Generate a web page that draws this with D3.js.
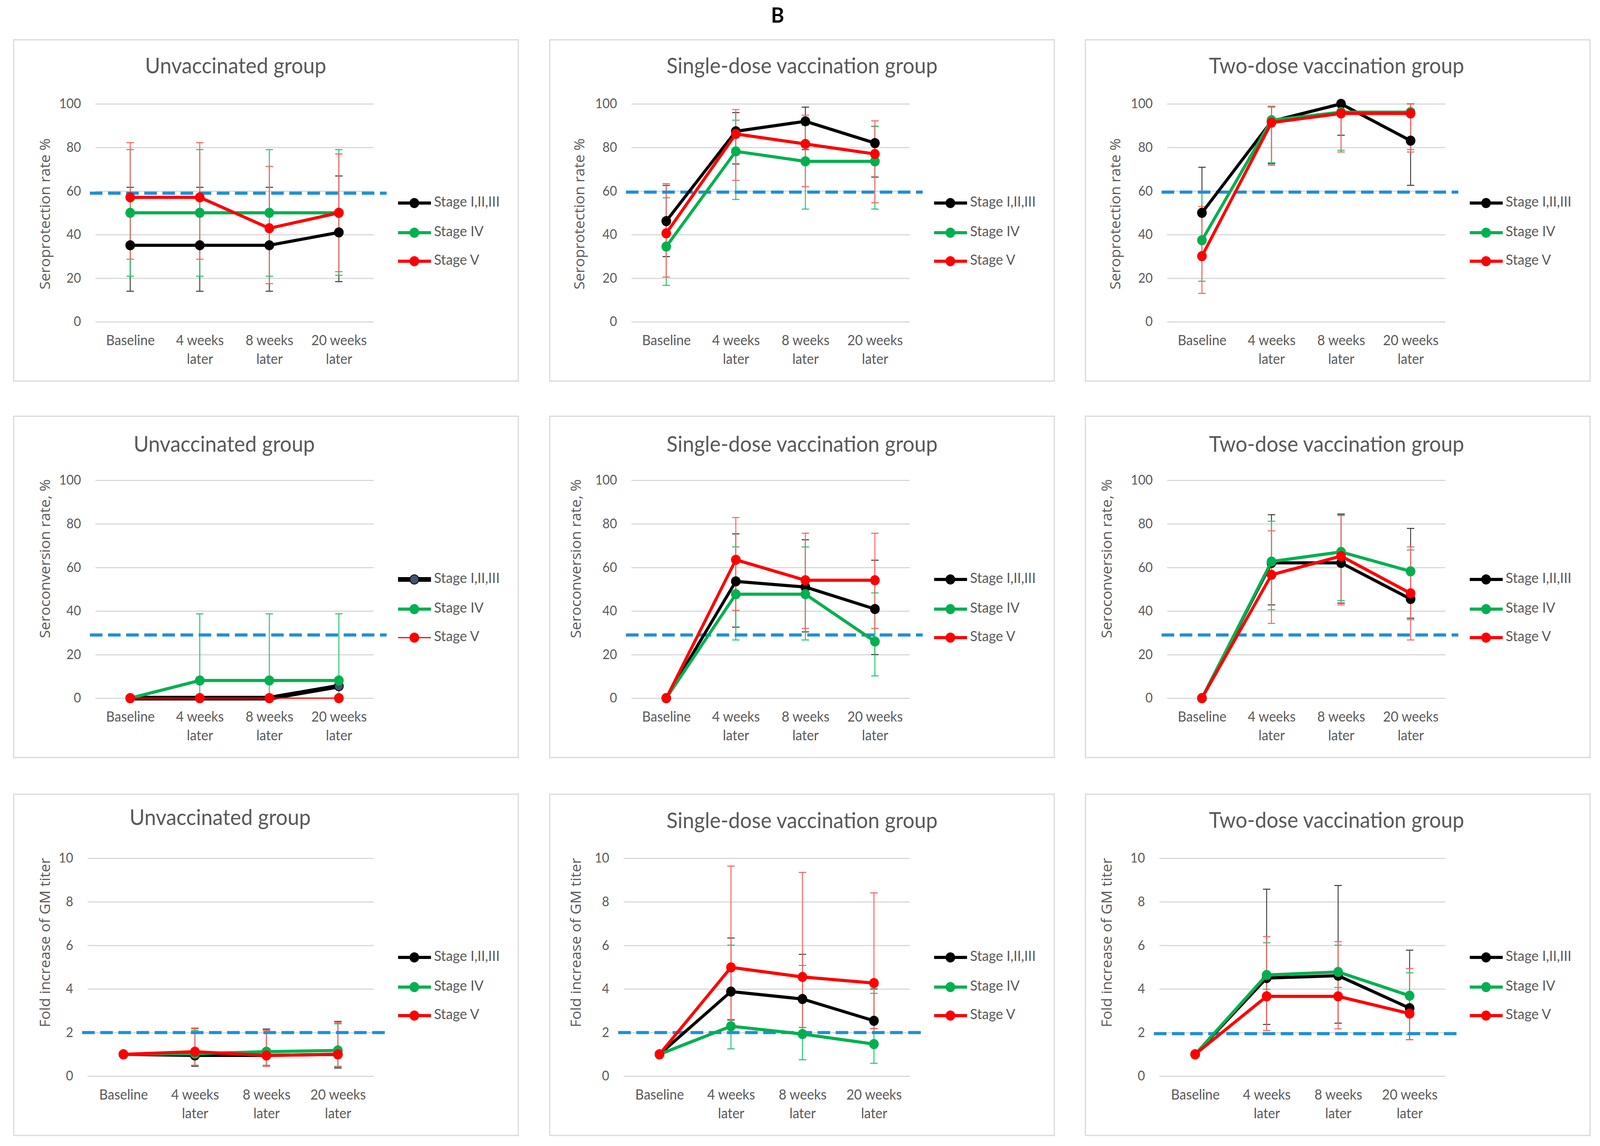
<!DOCTYPE html>
<html>
<head>
<meta charset="utf-8">
<script src="https://cdn.jsdelivr.net/npm/d3@7"></script>
<style>
  html, body { margin: 0; padding: 0; background: #fff; overflow: hidden; }
  svg { display: block; }
</style>
</head>
<body>
<svg id="chart"></svg>
<script>
// categories
const timepoints = ["Baseline", "4 weeks later", "8 weeks later", "20 weeks later"];
const stages = ["Stage I,II,III", "Stage IV", "Stage V"];
const groups = ["Unvaccinated group", "Single-dose vaccination group", "Two-dose vaccination group"];
const measures = ["Seroprotection rate %", "Seroconversion rate, %", "Fold increase of GM titer"];
const pctTicks = [0, 20, 40, 60, 80, 100];
const foldTicks = [0, 2, 4, 6, 8, 10];

// cut-off lines, [measure][group]
const thresholds = [[59, 59.5, 59.5], [29, 29, 29], [2, 2, 1.95]];

// seroprotection rate, [group][stage][timepoint]
const protMean = [
  [[35.1, 35.1, 35.1, 41.0], [50, 50, 50, 50], [57.1, 57.1, 42.9, 50]],
  [[46.2, 87.4, 92.0, 82.0], [34.5, 78.2, 73.6, 73.6], [40.6, 86.2, 81.6, 77.0]],
  [[50, 92, 100, 83.1], [37.4, 92.5, 96.2, 96.2], [30.1, 91.4, 95.6, 95.6]]
];
const protLow = [
  [[14, 14, 14, 18.4], [20.9, 20.9, 20.9, 21.3], [28.7, 28.7, 17.5, 23]],
  [[29.9, 72.4, 79, 66.4], [16.7, 56.1, 51.7, 51.7], [20.5, 64.9, 62, 54.6]],
  [[29, 72.5, 85.6, 62.6], [18.6, 73, 78.7, 79], [13, 71.8, 77.9, 77.9]]
];
const protHigh = [
  [[61.7, 61.7, 61.7, 66.9], [79, 79, 79, 79], [82.2, 82.2, 71.3, 77]],
  [[62.6, 96, 98.5, 89.7], [56.9, 92.5, 90.2, 89.7], [63.4, 97.4, 94.8, 92.2]],
  [[70.9, 98.9, 100, 100], [59, 98.5, 100, 100], [52.9, 98.9, 100, 100]]
];

// seroconversion rate
const convMean = [
  [[0, 0, 0, 5.5], [0, 8.1, 8.1, 8.1], [0, 0, 0, 0]],
  [[0, 53.6, 51, 40.9], [0, 47.7, 47.7, 26], [0, 63.5, 54.1, 54.1]],
  [[0, 62.1, 62.1, 45.5], [0, 62.7, 67.1, 58.2], [0, 56.6, 65.2, 48.1]]
];
const convLow = [
  [[null, null, null, null], [null, 0, 0, 0], [null, null, null, null]],
  [[null, 32.6, 30.4, 20], [null, 26.7, 26.7, 10.2], [null, 40.3, 32, 32]],
  [[null, 42.8, 43.6, 36.7], [null, 40.6, 44.8, 36], [null, 34.3, 42.8, 26.7]]
];
const convHigh = [
  [[null, null, null, null], [null, 38.7, 38.7, 38.7], [null, null, null, null]],
  [[null, 75.4, 72.7, 63.3], [null, 69.4, 69.4, 48.3], [null, 82.9, 75.7, 75.7]],
  [[null, 84.2, 84.5, 77.9], [null, 81.2, 84, 68], [null, 76.8, 83.8, 69.4]]
];

// fold increase of GM titer
const foldMean = [
  [[1, 0.95, 0.95, 1.0], [1, 1.03, 1.12, 1.18], [1, 1.12, 0.95, 1.0]],
  [[1, 3.88, 3.54, 2.54], [1, 2.29, 1.93, 1.47], [1, 4.99, 4.55, 4.27]],
  [[1, 4.5, 4.61, 3.12], [1, 4.64, 4.78, 3.69], [1, 3.66, 3.66, 2.87]]
];
const foldLow = [
  [[null, 0.45, 0.45, 0.37], [null, 0.5, 0.5, 0.45], [null, 0.5, 0.45, 0.42]],
  [[null, 2.57, 2.23, 2.18], [null, 1.25, 0.75, 0.59], [null, 2.6, 2.23, 2.18]],
  [[null, 2.37, 2.43, 1.67], [null, 3.99, 4.07, 1.92], [null, 2.09, 2.17, 1.67]]
];
const foldHigh = [
  [[null, 2.2, 2.16, 2.51], [null, 2.1, 2.1, 2.4], [null, 2.18, 2.1, 2.45]],
  [[null, 6.34, 5.59, 4.0], [null, 6.01, 5.08, 3.8], [null, 9.64, 9.35, 8.41]],
  [[null, 8.58, 8.75, 5.78], [null, 6.12, 6.01, 4.74], [null, 6.4, 6.17, 4.94]]
];

const means = [protMean, convMean, foldMean];
const lows = [protLow, convLow, foldLow];
const highs = [protHigh, convHigh, foldHigh];

// layout
const W = 4325, H = 2935;
const FONT = "Lato, 'Open Sans', sans-serif";
const AXIS_FONT = "'Open Sans', 'Noto Sans', sans-serif";
const GREY = "#595959";
const panelW = 1364, panelH = 874;
const colX = [37, 1486, 2934], rowY = [102, 1066, 2034];
const plotTop = 164, plotBottom = 722, plotRight = 973;
const plotLeft = [221, 221, 200];
const titlePos = [
  [[600, 72], [682, 72], [679, 72]],
  [[569, 77], [682, 77], [679, 77]],
  [[558, 65], [682, 73], [679, 72]]
];
const yLabelX = [[88, 83, 84], [88, 74, 61], [88, 74, 61]];
const yLabelY = [446, 365, 380];
const legendY = [418, 494, 567];

const colors = ["#000000", "#00b050", "#ff0000"];
const errColors = ["#3a3a3a", "#19c46a", "#ff5a5a"];

// the drawing is laid out at 4325x2935; stretch it over the real viewport
const vw = window.innerWidth || W, vh = window.innerHeight || H;
const svg = d3.select("#chart")
  .attr("viewBox", `0 0 ${W} ${H}`)
  .attr("width", vw).attr("height", vh)
  .attr("preserveAspectRatio", "none");
svg.append("rect").attr("width", W).attr("height", H).attr("fill", "#fff");

svg.append("text")
  .attr("x", 2102).attr("y", 58)
  .attr("text-anchor", "middle")
  .attr("font-family", FONT).attr("font-weight", "bold").attr("font-size", 54)
  .attr("fill", "#000")
  .text("B");

for (let r = 0; r < 3; r++) {
  for (let c = 0; c < 3; c++) drawPanel(r, c);
}

function lineWidth(r, c, si) {
  if (r === 1 && c === 0) return [12, 8, 3][si];
  return 8;
}

function drawPanel(r, c) {
  const g = svg.append("g").attr("transform", `translate(${colX[c]},${rowY[r]})`);

  g.append("rect")
    .attr("width", panelW).attr("height", panelH)
    .attr("fill", "#fff").attr("stroke", "#d9d9d9").attr("stroke-width", 3);

  const left = plotLeft[r];
  const ticks = r === 2 ? foldTicks : pctTicks;
  const x = d3.scalePoint().domain(timepoints).range([left, plotRight]).padding(0.5);
  const y = d3.scaleLinear().domain([0, d3.max(ticks)]).range([plotBottom, plotTop]);

  // gridlines + tick labels
  const yAxis = g.append("g")
    .attr("transform", `translate(${left},0)`)
    .call(d3.axisLeft(y).tickValues(ticks).tickSize(-(plotRight - left)).tickPadding(39));
  yAxis.select(".domain").remove();
  yAxis.selectAll("line").attr("stroke", "#d9d9d9").attr("stroke-width", 3);
  yAxis.selectAll("text")
    .attr("font-family", FONT).attr("font-size", 34).attr("fill", GREY);

  // category labels, two lines
  const xAxis = g.append("g")
    .attr("transform", `translate(0,${plotBottom})`)
    .call(d3.axisBottom(x).tickSize(0).tickPadding(0));
  xAxis.select(".domain").remove();
  xAxis.selectAll("text").each(function(d) {
    const t = d3.select(this)
      .text(null).attr("y", null).attr("dy", null)
      .attr("font-family", FONT).attr("font-size", 36).attr("fill", GREY);
    d.replace(" later", "\nlater").split("\n").forEach((p, i) => {
      t.append("tspan").attr("x", 0).attr("y", 51 + i * 48)
        .attr("dominant-baseline", "middle").text(p);
    });
  });

  // chart title
  g.append("text")
    .attr("x", titlePos[r][c][0]).attr("y", titlePos[r][c][1])
    .attr("text-anchor", "middle").attr("dominant-baseline", "middle")
    .attr("font-family", FONT).attr("font-size", 56).attr("fill", GREY)
    .text(groups[c]);

  // y axis title
  g.append("text")
    .attr("transform", `translate(${yLabelX[r][c]},${yLabelY[r]}) rotate(-90)`)
    .attr("text-anchor", "middle").attr("dominant-baseline", "middle")
    .attr("font-family", AXIS_FONT).attr("font-size", 38).attr("fill", GREY)
    .text(measures[r]);

  const mean = means[r][c], lo = lows[r][c], hi = highs[r][c];

  // error bars, behind everything else
  stages.forEach((s, si) => {
    const bars = timepoints.map((t, i) => ({ t, lo: lo[si][i], hi: hi[si][i] }))
      .filter(d => d.lo !== null && d.hi !== null);
    const eg = g.append("g").attr("stroke", errColors[si]).attr("stroke-width", 2.5);
    eg.selectAll("line.v").data(bars).enter().append("line")
      .attr("x1", d => x(d.t)).attr("x2", d => x(d.t))
      .attr("y1", d => y(d.lo)).attr("y2", d => y(d.hi));
    ["lo", "hi"].forEach(k => {
      eg.selectAll("line." + k).data(bars).enter().append("line")
        .attr("x1", d => x(d.t) - 10).attr("x2", d => x(d.t) + 10)
        .attr("y1", d => y(d[k])).attr("y2", d => y(d[k]));
    });
  });

  // cut-off line
  const th = thresholds[r][c];
  g.append("line")
    .attr("x1", left - 15).attr("x2", plotRight + 35)
    .attr("y1", y(th)).attr("y2", y(th))
    .attr("stroke", "#1f8fd8").attr("stroke-width", 8)
    .attr("stroke-dasharray", "34,15");

  // series
  const line = d3.line().x((d, i) => x(timepoints[i])).y(d => y(d));
  stages.forEach((s, si) => {
    const vals = mean[si];
    const lw = lineWidth(r, c, si);
    g.append("path").datum(vals)
      .attr("fill", "none").attr("stroke", colors[si])
      .attr("stroke-width", lw).attr("stroke-linejoin", "round")
      .attr("d", line);
    const fill = (r === 1 && c === 0 && si === 0) ? "#44546a" : colors[si];
    g.selectAll(null).data(vals).enter().append("circle")
      .attr("cx", (d, i) => x(timepoints[i])).attr("cy", d => y(d))
      .attr("r", 12).attr("fill", fill)
      .attr("stroke", colors[si]).attr("stroke-width", 2);
  });

  // legend
  stages.forEach((s, si) => {
    const ly = legendY[si];
    const fill = (r === 1 && c === 0 && si === 0) ? "#44546a" : colors[si];
    g.append("line")
      .attr("x1", 1039).attr("x2", 1128).attr("y1", ly).attr("y2", ly)
      .attr("stroke", colors[si]).attr("stroke-width", lineWidth(r, c, si));
    g.append("circle").attr("cx", 1083).attr("cy", ly).attr("r", 12)
      .attr("fill", fill).attr("stroke", colors[si]).attr("stroke-width", 2);
    g.append("text")
      .attr("x", 1136).attr("y", ly)
      .attr("dominant-baseline", "middle")
      .attr("font-family", FONT).attr("font-size", 37).attr("fill", GREY)
      .text(s);
  });
}
</script>
</body>
</html>
